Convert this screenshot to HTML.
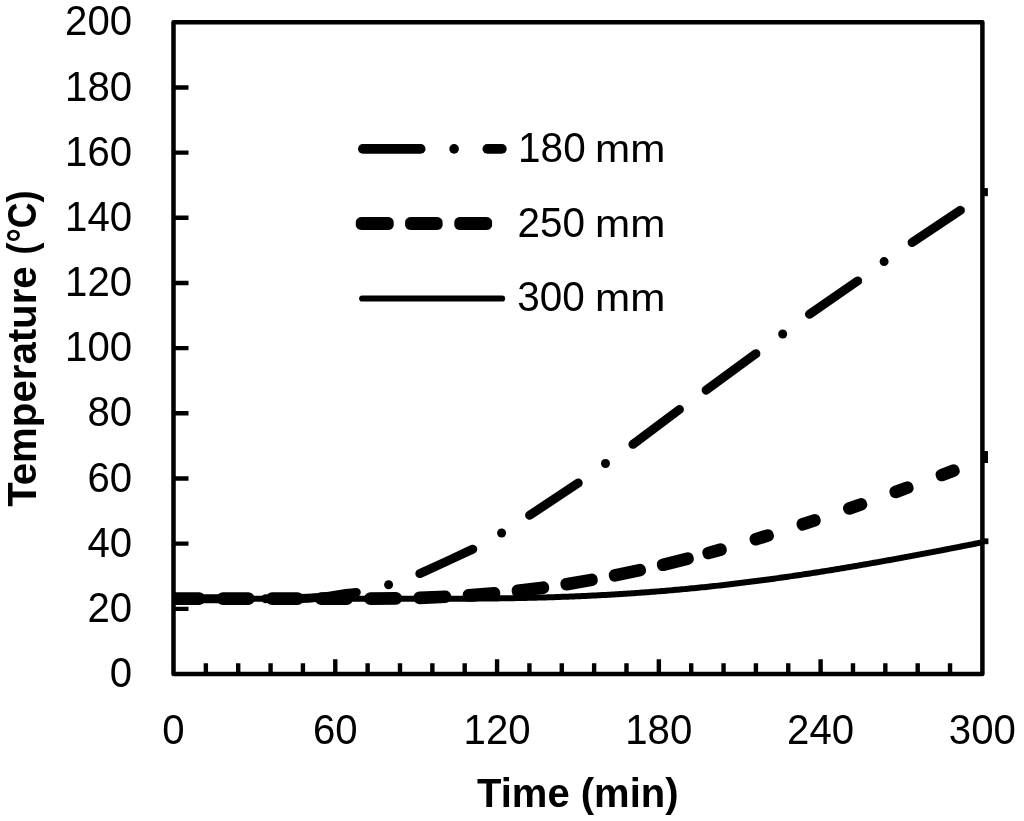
<!DOCTYPE html><html><head><meta charset="utf-8"><style>html,body{margin:0;padding:0;background:#fff;width:1024px;height:821px;overflow:hidden}svg{display:block;will-change:transform}text{font-family:"Liberation Sans",sans-serif}</style></head><body><svg width="1024" height="821" viewBox="0 0 1024 821">
<defs><clipPath id="pa"><rect x="172" y="20" width="812" height="660"/></clipPath></defs>
<rect width="1024" height="821" fill="#fff"/>
<g clip-path="url(#pa)">
<path d="M150.0,598.80 L152.0,598.80 L154.0,598.80 L156.0,598.80 L158.0,598.80 L160.0,598.80 L162.0,598.80 L164.0,598.80 L166.0,598.80 L168.0,598.80 L170.0,598.80 L172.0,598.80 L174.0,598.80 L176.0,598.80 L178.0,598.80 L180.0,598.80 L182.0,598.80 L184.0,598.80 L186.0,598.80 L188.0,598.80 L190.0,598.80 L192.0,598.80 L194.0,598.80 L196.0,598.80 L198.0,598.80 L200.0,598.80 L202.0,598.80 L204.0,598.80 L206.0,598.80 L208.0,598.80 L210.0,598.80 L212.0,598.80 L214.0,598.80 L216.0,598.80 L218.0,598.80 L220.0,598.80 L222.0,598.80 L224.0,598.80 L226.0,598.80 L228.0,598.80 L230.0,598.80 L232.0,598.80 L234.0,598.80 L236.0,598.80 L238.0,598.80 L240.0,598.80 L242.0,598.80 L244.0,598.80 L246.0,598.80 L248.0,598.80 L250.0,598.80 L252.0,598.80 L254.0,598.80 L256.0,598.80 L258.0,598.80 L260.0,598.80 L262.0,598.80 L264.0,598.80 L266.0,598.80 L268.0,598.80 L270.0,598.80 L272.0,598.80 L274.0,598.80 L276.0,598.80 L278.0,598.80 L280.0,598.80 L282.0,598.80 L284.0,598.80 L286.0,598.80 L288.0,598.80 L290.0,598.80 L292.0,598.80 L294.0,598.80 L296.0,598.80 L298.0,598.80 L300.0,598.80 L302.0,598.80 L304.0,598.80 L306.0,598.80 L308.0,598.80 L310.0,598.80 L312.0,598.80 L314.0,598.80 L316.0,598.80 L318.0,598.80 L320.0,598.80 L322.0,598.80 L324.0,598.80 L326.0,598.80 L328.0,598.80 L330.0,598.80 L332.0,598.80 L334.0,598.80 L336.0,598.80 L338.0,598.80 L340.0,598.80 L342.0,598.80 L344.0,598.80 L346.0,598.80 L348.0,598.80 L350.0,598.80 L352.0,598.80 L354.0,598.80 L356.0,598.80 L358.0,598.80 L360.0,598.80 L362.0,598.80 L364.0,598.80 L366.0,598.80 L368.0,598.80 L370.0,598.80 L372.0,598.80 L374.0,598.80 L376.0,598.80 L378.0,598.80 L380.0,598.80 L382.0,598.80 L384.0,598.80 L386.0,598.80 L388.0,598.80 L390.0,598.80 L392.0,598.80 L394.0,598.80 L396.0,598.80 L398.0,598.80 L400.0,598.80 L402.0,598.80 L404.0,598.80 L406.0,598.80 L408.0,598.80 L410.0,598.80 L412.0,598.80 L414.0,598.80 L416.0,598.80 L418.0,598.80 L420.0,598.80 L422.0,598.80 L424.0,598.80 L426.0,598.80 L428.0,598.80 L430.0,598.80 L432.0,598.80 L434.0,598.79 L436.0,598.79 L438.0,598.79 L440.0,598.79 L442.0,598.78 L444.0,598.78 L446.0,598.78 L448.0,598.77 L450.0,598.76 L452.0,598.76 L454.0,598.75 L456.0,598.74 L458.0,598.74 L460.0,598.73 L462.0,598.72 L464.0,598.71 L466.0,598.70 L468.0,598.69 L470.0,598.67 L472.0,598.66 L474.0,598.64 L476.0,598.63 L478.0,598.61 L480.0,598.60 L482.0,598.58 L484.0,598.56 L486.0,598.54 L488.0,598.52 L490.0,598.50 L492.0,598.47 L494.0,598.45 L496.0,598.42 L498.0,598.40 L500.0,598.37 L502.0,598.34 L504.0,598.31 L506.0,598.28 L508.0,598.25 L510.0,598.22 L512.0,598.18 L514.0,598.15 L516.0,598.11 L518.0,598.07 L520.0,598.03 L522.0,597.99 L524.0,597.95 L526.0,597.90 L528.0,597.86 L530.0,597.81 L532.0,597.76 L534.0,597.72 L536.0,597.67 L538.0,597.61 L540.0,597.56 L542.0,597.50 L544.0,597.45 L546.0,597.39 L548.0,597.33 L550.0,597.27 L552.0,597.21 L554.0,597.14 L556.0,597.08 L558.0,597.01 L560.0,596.94 L562.0,596.87 L564.0,596.80 L566.0,596.72 L568.0,596.65 L570.0,596.57 L572.0,596.49 L574.0,596.41 L576.0,596.33 L578.0,596.25 L580.0,596.16 L582.0,596.07 L584.0,595.98 L586.0,595.89 L588.0,595.80 L590.0,595.71 L592.0,595.61 L594.0,595.51 L596.0,595.41 L598.0,595.31 L600.0,595.21 L602.0,595.10 L604.0,595.00 L606.0,594.89 L608.0,594.78 L610.0,594.66 L612.0,594.55 L614.0,594.43 L616.0,594.31 L618.0,594.19 L620.0,594.07 L622.0,593.95 L624.0,593.82 L626.0,593.69 L628.0,593.56 L630.0,593.43 L632.0,593.30 L634.0,593.16 L636.0,593.02 L638.0,592.88 L640.0,592.74 L642.0,592.60 L644.0,592.45 L646.0,592.31 L648.0,592.16 L650.0,592.00 L652.0,591.85 L654.0,591.70 L656.0,591.54 L658.0,591.38 L660.0,591.22 L662.0,591.05 L664.0,590.89 L666.0,590.72 L668.0,590.55 L670.0,590.38 L672.0,590.20 L674.0,590.03 L676.0,589.85 L678.0,589.67 L680.0,589.49 L682.0,589.30 L684.0,589.12 L686.0,588.93 L688.0,588.74 L690.0,588.55 L692.0,588.35 L694.0,588.16 L696.0,587.96 L698.0,587.76 L700.0,587.56 L702.0,587.35 L704.0,587.15 L706.0,586.94 L708.0,586.73 L710.0,586.51 L712.0,586.30 L714.0,586.08 L716.0,585.86 L718.0,585.64 L720.0,585.42 L722.0,585.20 L724.0,584.97 L726.0,584.74 L728.0,584.51 L730.0,584.28 L732.0,584.04 L734.0,583.81 L736.0,583.57 L738.0,583.33 L740.0,583.09 L742.0,582.84 L744.0,582.59 L746.0,582.35 L748.0,582.10 L750.0,581.84 L752.0,581.59 L754.0,581.33 L756.0,581.08 L758.0,580.82 L760.0,580.55 L762.0,580.29 L764.0,580.02 L766.0,579.76 L768.0,579.49 L770.0,579.22 L772.0,578.94 L774.0,578.67 L776.0,578.39 L778.0,578.11 L780.0,577.83 L782.0,577.55 L784.0,577.27 L786.0,576.98 L788.0,576.69 L790.0,576.40 L792.0,576.11 L794.0,575.82 L796.0,575.53 L798.0,575.23 L800.0,574.93 L802.0,574.63 L804.0,574.33 L806.0,574.03 L808.0,573.72 L810.0,573.42 L812.0,573.11 L814.0,572.80 L816.0,572.49 L818.0,572.17 L820.0,571.86 L822.0,571.54 L824.0,571.23 L826.0,570.91 L828.0,570.59 L830.0,570.26 L832.0,569.94 L834.0,569.61 L836.0,569.29 L838.0,568.96 L840.0,568.63 L842.0,568.30 L844.0,567.96 L846.0,567.63 L848.0,567.29 L850.0,566.96 L852.0,566.62 L854.0,566.28 L856.0,565.94 L858.0,565.60 L860.0,565.25 L862.0,564.91 L864.0,564.56 L866.0,564.21 L868.0,563.86 L870.0,563.51 L872.0,563.16 L874.0,562.81 L876.0,562.46 L878.0,562.10 L880.0,561.74 L882.0,561.39 L884.0,561.03 L886.0,560.67 L888.0,560.31 L890.0,559.95 L892.0,559.58 L894.0,559.22 L896.0,558.85 L898.0,558.49 L900.0,558.12 L902.0,557.75 L904.0,557.38 L906.0,557.01 L908.0,556.64 L910.0,556.27 L912.0,555.90 L914.0,555.52 L916.0,555.15 L918.0,554.77 L920.0,554.40 L922.0,554.02 L924.0,553.64 L926.0,553.26 L928.0,552.88 L930.0,552.50 L932.0,552.12 L934.0,551.74 L936.0,551.35 L938.0,550.97 L940.0,550.59 L942.0,550.20 L944.0,549.81 L946.0,549.43 L948.0,549.04 L950.0,548.65 L952.0,548.26 L954.0,547.88 L956.0,547.49 L958.0,547.10 L960.0,546.71 L962.0,546.31 L964.0,545.92 L966.0,545.53 L968.0,545.14 L970.0,544.74 L972.0,544.35 L974.0,543.96 L976.0,543.56 L978.0,543.17 L980.0,542.77 L982.0,542.38 L984.0,541.98 L986.0,541.58 L988.0,541.19 L990.0,540.79 L992.0,540.39 L994.0,539.99 L996.0,539.60 L998.0,539.20 L1000.0,538.80 L1002.0,538.40 L1004.0,538.00 L1006.0,537.60 L1008.0,537.20 L1010.0,536.80" fill="none" stroke="#000" stroke-width="6" stroke-linejoin="round"/>
<g fill="#000"><rect x="-18.80" y="-6.3" width="37.60" height="12.6" rx="6.0" ry="5.4" transform="translate(186.40,598.60) rotate(0.00)"/><rect x="-18.80" y="-6.3" width="37.60" height="12.6" rx="6.0" ry="5.4" transform="translate(235.60,598.60) rotate(0.00)"/><rect x="-18.80" y="-6.3" width="37.60" height="12.6" rx="6.0" ry="5.4" transform="translate(284.80,598.60) rotate(0.00)"/><rect x="-18.80" y="-6.3" width="37.60" height="12.6" rx="6.0" ry="5.4" transform="translate(334.00,598.60) rotate(0.00)"/><rect x="-18.80" y="-6.3" width="37.60" height="12.6" rx="6.0" ry="5.4" transform="translate(383.20,598.51) rotate(-0.42)"/><rect x="-18.80" y="-6.3" width="37.60" height="12.6" rx="6.0" ry="5.4" transform="translate(432.38,597.34) rotate(-2.36)"/><rect x="-18.80" y="-6.3" width="37.60" height="12.6" rx="6.0" ry="5.4" transform="translate(481.48,594.32) rotate(-4.71)"/><rect x="-18.80" y="-6.3" width="37.60" height="12.6" rx="6.0" ry="5.4" transform="translate(530.41,589.23) rotate(-7.19)"/><rect x="-18.80" y="-6.3" width="37.60" height="12.6" rx="6.0" ry="5.4" transform="translate(579.07,582.02) rotate(-9.65)"/><rect x="-18.80" y="-6.3" width="37.60" height="12.6" rx="6.0" ry="5.4" transform="translate(627.39,572.78) rotate(-11.98)"/><rect x="-18.80" y="-6.3" width="37.60" height="12.6" rx="6.0" ry="5.4" transform="translate(675.32,561.67) rotate(-14.08)"/><rect x="-12.30" y="-6.3" width="24.60" height="12.6" rx="6.0" ry="5.4" transform="translate(714.58,551.30) rotate(-15.60)"/><rect x="-12.30" y="-6.3" width="24.60" height="12.6" rx="6.0" ry="5.4" transform="translate(761.77,537.40) rotate(-17.16)"/><rect x="-12.30" y="-6.3" width="24.60" height="12.6" rx="6.0" ry="5.4" transform="translate(808.61,522.35) rotate(-18.41)"/><rect x="-12.30" y="-6.3" width="24.60" height="12.6" rx="6.0" ry="5.4" transform="translate(855.16,506.41) rotate(-19.35)"/><rect x="-12.30" y="-6.3" width="24.60" height="12.6" rx="6.0" ry="5.4" transform="translate(901.48,489.83) rotate(-20.00)"/><rect x="-12.30" y="-6.3" width="24.60" height="12.6" rx="6.0" ry="5.4" transform="translate(947.65,472.84) rotate(-20.38)"/><rect x="-12.30" y="-6.3" width="24.60" height="12.6" rx="6.0" ry="5.4" transform="translate(993.74,455.63) rotate(-20.53)"/></g>
<g fill="none" stroke="#000" stroke-width="9" stroke-linecap="round" stroke-linejoin="round"><path d="M160,598.8L231.5,598.8"/><path d="M298.3,598.6C315,598.4 330,596.2 340,594.4S351,593.2 356.3,592.4"/><path d="M419.8,573.6L446.3,561.5L472.8,549.2"/><path d="M529.6,515.3L578.2,483"/><path d="M632.9,444.3L679.4,409.5"/><path d="M706.1,390.2L755.9,353.7"/><path d="M809.5,314.2L857.7,280.9"/><path d="M912.1,242.5L960.4,210.3"/></g>
<g fill="#000"><circle cx="265.7" cy="598.8" r="4.5"/><circle cx="388.6" cy="584.7" r="4.5"/><circle cx="501.6" cy="533" r="4.5"/><circle cx="605.5" cy="463.5" r="4.5"/><circle cx="782.7" cy="334" r="4.5"/><circle cx="884.1" cy="261.6" r="4.5"/></g>
</g>
<g fill="#000"><rect x="983" y="188.1" width="4.9" height="8.1"/><rect x="983" y="451.1" width="5" height="11.9"/><rect x="983" y="538.4" width="5.4" height="5.8"/></g>
<rect x="173.5" y="22.3" width="808.9" height="651.7" fill="none" stroke="#000" stroke-width="4.5" stroke-linejoin="round"/>
<path d="M173.5,608.83H188.5 M173.5,543.66H188.5 M173.5,478.49H188.5 M173.5,413.32H188.5 M173.5,348.15H188.5 M173.5,282.98H188.5 M173.5,217.81H188.5 M173.5,152.64H188.5 M173.5,87.47H188.5 M205.86,674.0V663.2 M238.21,674.0V663.2 M270.57,674.0V663.2 M302.92,674.0V663.2 M335.28,674.0V659.2 M367.64,674.0V663.2 M399.99,674.0V663.2 M432.35,674.0V663.2 M464.70,674.0V663.2 M497.06,674.0V659.2 M529.42,674.0V663.2 M561.77,674.0V663.2 M594.13,674.0V663.2 M626.48,674.0V663.2 M658.84,674.0V659.2 M691.20,674.0V663.2 M723.55,674.0V663.2 M755.91,674.0V663.2 M788.26,674.0V663.2 M820.62,674.0V659.2 M852.98,674.0V663.2 M885.33,674.0V663.2 M917.69,674.0V663.2 M950.04,674.0V663.2" stroke="#000" stroke-width="4.4" fill="none"/>
<g font-size="40.2" fill="#000"><text transform="translate(132.1,687.0) scale(1,1.045)" text-anchor="end">0</text><text transform="translate(132.1,621.8) scale(1,1.045)" text-anchor="end">20</text><text transform="translate(132.1,556.7) scale(1,1.045)" text-anchor="end">40</text><text transform="translate(132.1,491.5) scale(1,1.045)" text-anchor="end">60</text><text transform="translate(132.1,426.3) scale(1,1.045)" text-anchor="end">80</text><text transform="translate(132.1,361.1) scale(1,1.045)" text-anchor="end">100</text><text transform="translate(132.1,296.0) scale(1,1.045)" text-anchor="end">120</text><text transform="translate(132.1,230.8) scale(1,1.045)" text-anchor="end">140</text><text transform="translate(132.1,165.6) scale(1,1.045)" text-anchor="end">160</text><text transform="translate(132.1,100.5) scale(1,1.045)" text-anchor="end">180</text><text transform="translate(132.1,35.3) scale(1,1.045)" text-anchor="end">200</text><text transform="translate(173.5,744.3) scale(1,1.045)" text-anchor="middle">0</text><text transform="translate(335.3,744.3) scale(1,1.045)" text-anchor="middle">60</text><text transform="translate(497.1,744.3) scale(1,1.045)" text-anchor="middle">120</text><text transform="translate(658.8,744.3) scale(1,1.045)" text-anchor="middle">180</text><text transform="translate(820.6,744.3) scale(1,1.045)" text-anchor="middle">240</text><text transform="translate(982.4,744.3) scale(1,1.045)" text-anchor="middle">300</text></g>
<text x="577.8" y="807" text-anchor="middle" font-weight="bold" font-size="40">Time (min)</text>
<g font-weight="bold" font-size="40.2"><text transform="translate(36.2,506.8) rotate(-90)">Temperature</text><text transform="translate(36.2,254.5) rotate(-90) scale(0.89,1)">(°C)</text></g>
<g fill="#000"><path d="M362.8,148.9H420.7" stroke="#000" stroke-width="9.6" stroke-linecap="round"/><circle cx="454.1" cy="148.9" r="4.8"/><path d="M487.3,148.9H501.9" stroke="#000" stroke-width="9.6" stroke-linecap="round"/><rect x="355.8" y="217.1" width="37.9" height="13" rx="6" ry="4.8"/><rect x="405.1" y="217.1" width="37.5" height="13" rx="6" ry="4.8"/><rect x="454.3" y="217.1" width="37.8" height="13" rx="6" ry="4.8"/><path d="M362.2,298.5H502.1" stroke="#000" stroke-width="6.2" stroke-linecap="round"/></g>
<g font-size="40.5" fill="#000"><text transform="translate(518.1,161.8) scale(1,1.035)">180</text><text transform="translate(517.5,236.6) scale(1,1.035)">250</text><text transform="translate(517.2,311.3) scale(1,1.035)">300</text><text transform="translate(595.1,161.8) scale(1.042,0.96)">mm</text><text transform="translate(595.1,236.6) scale(1.042,0.96)">mm</text><text transform="translate(595.1,311.3) scale(1.042,0.96)">mm</text></g>
</svg></body></html>
